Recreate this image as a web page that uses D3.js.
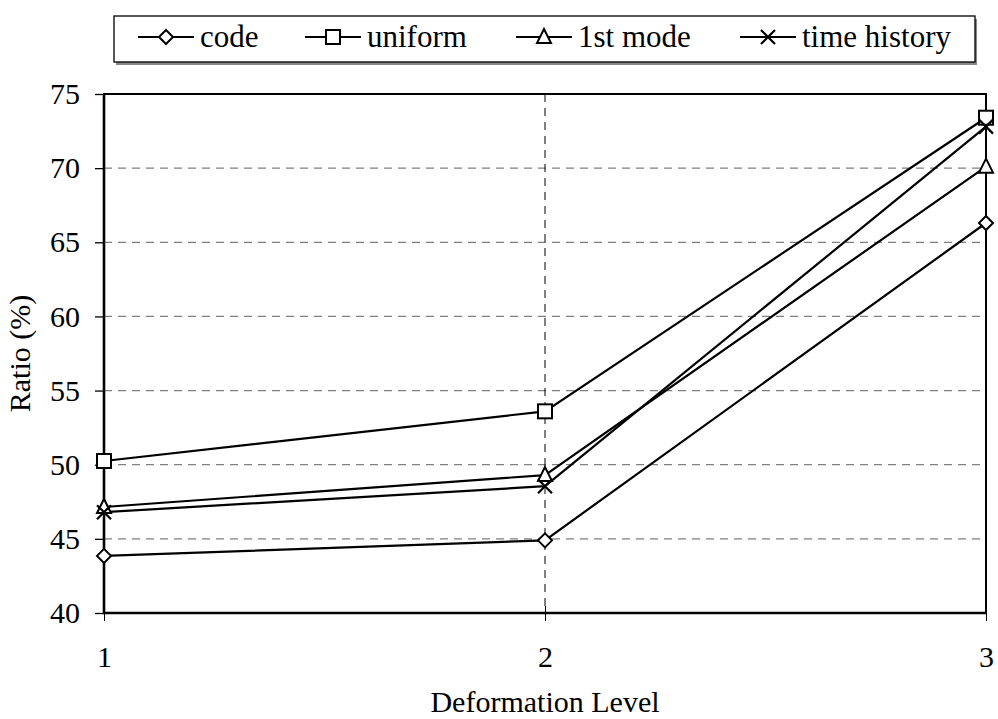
<!DOCTYPE html>
<html><head><meta charset="utf-8">
<script src="https://cdn.jsdelivr.net/npm/d3@7"></script>
<style>body{margin:0;background:#fff}svg{display:block}</style>
</head><body>
<script>
const levels = [1, 2, 3];
const codeVals = [43.85, 44.9, 66.3];
const uniformVals = [50.25, 53.6, 73.4];
const firstModeVals = [47.15, 49.3, 70.1];
const timeHistoryVals = [46.8, 48.55, 72.8];
const seriesNames = ["code", "uniform", "1st mode", "time history"];
const markerTypes = ["diamond", "square", "triangle", "cross"];
const yTicks = [40, 45, 50, 55, 60, 65, 70, 75];

const series = [codeVals, uniformVals, firstModeVals, timeHistoryVals];
const W = 998, H = 719;
const m = {left: 104, right: 986, top: 94, bottom: 613};
const font = "'Liberation Serif','Times New Roman',Times,serif";

const svg = d3.select("body").append("svg").attr("width", W).attr("height", H);
const x = d3.scaleLinear().domain([1, 3]).range([m.left, m.right]);
const y = d3.scaleLinear().domain([40, 75]).range([m.bottom, m.top]);

// gridlines
svg.append("g").selectAll("line").data(yTicks.filter(d => d > 40 && d < 75)).join("line")
  .attr("x1", m.left).attr("x2", m.right).attr("y1", d => y(d)).attr("y2", d => y(d))
  .attr("stroke", "#808080").attr("stroke-width", 1.3).attr("stroke-dasharray", "8,6");
svg.append("line").attr("x1", x(2)).attr("x2", x(2)).attr("y1", m.top).attr("y2", m.bottom)
  .attr("stroke", "#000").attr("stroke-width", 1).attr("stroke-dasharray", "8,6");

// axes
const yAxis = svg.append("g").attr("transform", `translate(${m.left},0)`)
  .call(d3.axisLeft(y).tickValues(yTicks).tickSize(9).tickPadding(15).tickFormat(d3.format("d")));
yAxis.select(".domain").remove();
yAxis.selectAll("line").attr("stroke", "#000").attr("stroke-width", 1.3);
yAxis.selectAll("text").attr("font-family", font).attr("font-size", 30).attr("fill", "#000");

const xAxis = svg.append("g").attr("transform", `translate(0,${m.bottom})`)
  .call(d3.axisBottom(x).tickValues(levels).tickSize(8).tickPadding(25).tickFormat(d3.format("d")));
xAxis.select(".domain").remove();
xAxis.selectAll("line").attr("stroke", "#000").attr("stroke-width", 1).attr("y1", -7);
xAxis.selectAll("text").attr("font-family", font).attr("font-size", 30).attr("fill", "#000");

// frame
svg.append("rect").attr("x", m.left).attr("y", m.top).attr("width", m.right - m.left).attr("height", m.bottom - m.top)
  .attr("fill", "none").attr("stroke", "#000").attr("stroke-width", 2);
svg.append("path").attr("d", `M${m.left},${m.top}V${m.bottom}H${m.right}`)
  .attr("fill", "none").attr("stroke", "#000").attr("stroke-width", 2.6);

// markers
function marker(g, type) {
  const s = 7;
  if (type === "diamond") g.append("path").attr("d", `M0,${-s}L${s},0L0,${s}L${-s},0Z`).attr("fill", "#fff").attr("stroke", "#000").attr("stroke-width", 2);
  else if (type === "square") g.append("rect").attr("x", -s).attr("y", -s).attr("width", 2 * s).attr("height", 2 * s).attr("fill", "#fff").attr("stroke", "#000").attr("stroke-width", 2);
  else if (type === "triangle") g.append("path").attr("d", `M0,${-s - 1}L${s},${s - 1}L${-s},${s - 1}Z`).attr("fill", "#fff").attr("stroke", "#000").attr("stroke-width", 2);
  else g.append("path").attr("d", `M${-s},${-s}L${s},${s}M${s},${-s}L${-s},${s}`).attr("fill", "none").attr("stroke", "#000").attr("stroke-width", 2.2);
}

const line = d3.line().x((d, i) => x(levels[i])).y(d => y(d));
series.forEach((vals) => {
  svg.append("path").datum(vals).attr("d", line).attr("fill", "none").attr("stroke", "#000").attr("stroke-width", 2.2);
});
series.forEach((vals, k) => {
  vals.forEach((v, i) => {
    const g = svg.append("g").attr("transform", `translate(${x(levels[i])},${y(v)})`);
    marker(g, markerTypes[k]);
  });
});

// axis titles
svg.append("text").attr("x", x(2)).attr("y", 712).attr("text-anchor", "middle")
  .attr("font-family", font).attr("font-size", 30).text("Deformation Level");
svg.append("text").attr("transform", `translate(30,${(m.top + m.bottom) / 2}) rotate(-90)`).attr("text-anchor", "middle")
  .attr("font-family", font).attr("font-size", 30).text("Ratio (%)");

// legend
const lg = svg.append("g");
lg.append("rect").attr("x", 116).attr("y", 19).attr("width", 861).attr("height", 46).attr("fill", "#888");
lg.append("rect").attr("x", 114).attr("y", 16).attr("width", 861).attr("height", 46).attr("fill", "#fff").attr("stroke", "#000").attr("stroke-width", 1.3);
const legX = [138, 305, 516, 740];
seriesNames.forEach((name, k) => {
  const x0 = legX[k], yc = 37;
  lg.append("line").attr("x1", x0).attr("x2", x0 + 56).attr("y1", yc).attr("y2", yc).attr("stroke", "#000").attr("stroke-width", 2.2);
  marker(lg.append("g").attr("transform", `translate(${x0 + 28},${yc})`), markerTypes[k]);
  lg.append("text").attr("x", x0 + 62).attr("y", 47).attr("font-family", font).attr("font-size", 31).text(name);
});
</script>
</body></html>
